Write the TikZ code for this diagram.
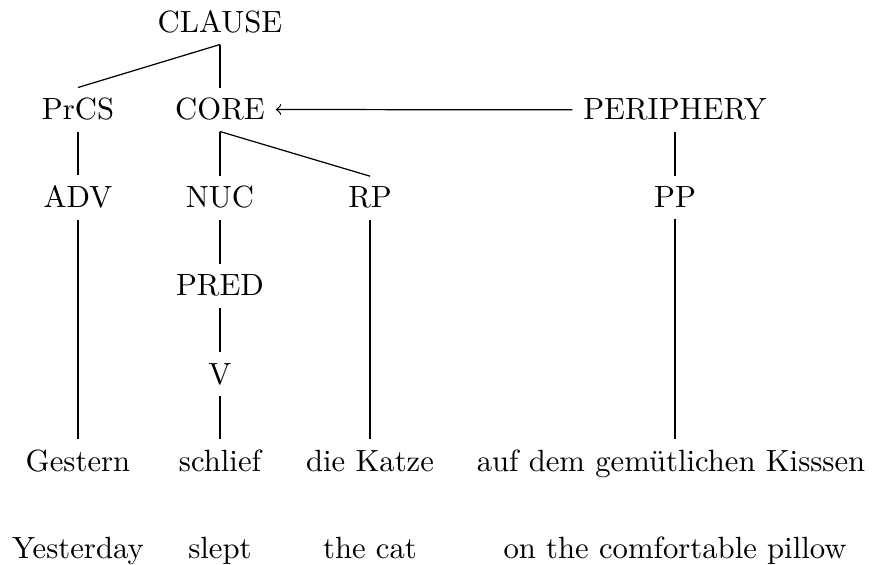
\documentclass[tikz,border=0pt]{standalone}
\usepackage{fontspec}
\begin{document}
\begin{tikzpicture}[x=0.3257pt, y=-0.3257pt,
  lbl/.style={anchor=base, inner sep=3.33pt},
  word/.style={lbl, text height=6.94pt},
  branch/.style={draw, line width=0.4pt}]
\useasboundingbox (0,0) rectangle (875,565);
% constituent labels
\node[lbl] (clause) at (220,33) {CLAUSE};
\node[lbl] (prcs)   at (78,120)  {PrCS};
\node[lbl] (core)   at (220,120) {CORE};
\node[lbl] (peri)   at (675,120) {PERIPHERY};
\node[lbl] (adv)    at (78,208)  {ADV};
\node[lbl] (nuc)    at (220,208) {NUC};
\node[lbl] (rp)     at (370,208) {RP};
\node[lbl] (pp)     at (675,208) {PP};
\node[lbl] (pred)   at (220,296) {PRED};
\node[lbl] (v)      at (220,384) {V};
% German words
\node[word] (w1) at (78,471)  {Gestern};
\node[word] (w2) at (220,471) {schlief};
\node[word] (w3) at (370,471) {die Katze};
\node[word] (w4) at (671,471) {auf dem gemütlichen Kisssen};
% glosses
\node[lbl] (g1) at (78,558)  {Yesterday};
\node[lbl] (g2) at (220,558) {slept};
\node[lbl] (g3) at (370,558) {the cat};
\node[lbl] (g4) at (675,558) {on the comfortable pillow};
% branches
\path[branch] (clause.south) -- (prcs.north);
\path[branch] (clause.south) -- (core.north);
\path[branch] (prcs.south) -- (adv.north);
\path[branch] (adv.south) -- (w1.north);
\path[branch] (core.south) -- (nuc.north);
\path[branch] (core.south) -- (rp.north);
\path[branch] (nuc.south) -- (pred.north);
\path[branch] (pred.south) -- (v.north);
\path[branch] (v.south) -- (w2.north);
\path[branch] (rp.south) -- (w3.north);
\path[branch] (peri.south) -- (pp.north);
\path[branch] (pp.south) -- (w4.north -| pp.south);
% periphery modifies the core
\draw[->] (peri.west) -- (core.east);
\end{tikzpicture}
\end{document}
